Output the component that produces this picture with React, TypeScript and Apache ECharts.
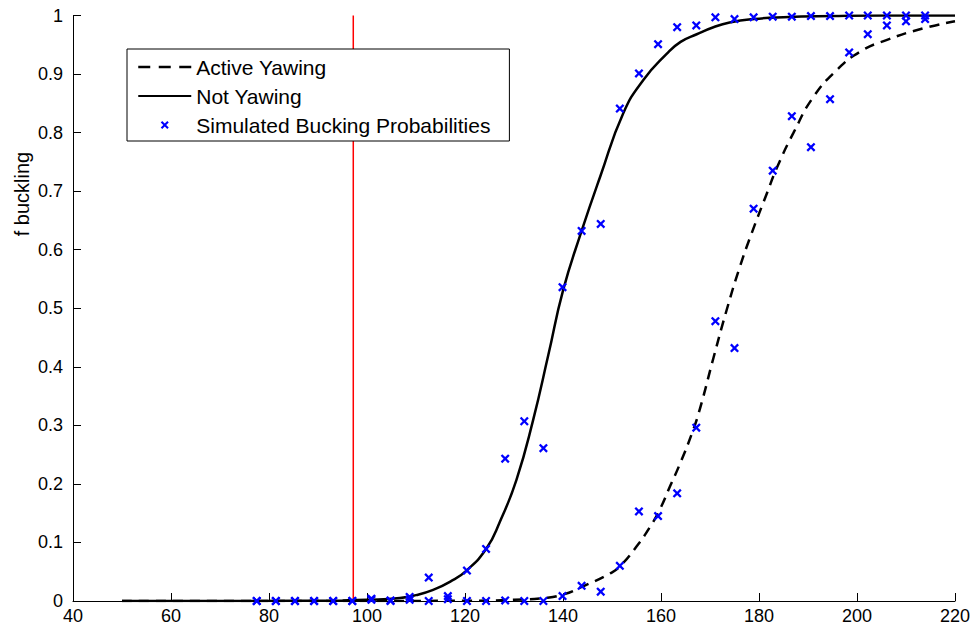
import React, { useEffect, useRef } from "react";
import * as echarts from "echarts";

// Fitted curves (x, f buckling)
const notYawingCurveX = [50, 70, 85, 95, 100, 106.7, 110, 113.5, 117, 120.3, 124.4, 127.1, 130.5, 133.9, 137, 140, 143.8, 147.6, 152.3, 156.4, 161.2, 164, 167.3, 170.7, 174, 179, 185, 195, 205, 220];
const notYawingCurveY = [0, 0, 0.0003, 0.001, 0.002, 0.005, 0.01, 0.019, 0.033, 0.052, 0.09, 0.135, 0.207, 0.309, 0.42, 0.53, 0.632, 0.725, 0.833, 0.89, 0.935, 0.955, 0.968, 0.98, 0.988, 0.994, 0.997, 0.999, 1, 1];

const activeYawingCurveX = [50, 100, 120, 130, 136, 140, 144.1, 149.6, 151.6, 155, 157.8, 159.8, 161.8, 163.9, 166.3, 168, 170.7, 173.4, 176.1, 178.5, 181.6, 183.6, 187, 191.1, 195.9, 200.6, 206, 213.5, 220];
const activeYawingCurveY = [0, 0, 0.0005, 0.002, 0.005, 0.011, 0.025, 0.047, 0.059, 0.093, 0.127, 0.157, 0.195, 0.235, 0.286, 0.33, 0.415, 0.497, 0.571, 0.628, 0.696, 0.739, 0.799, 0.861, 0.907, 0.938, 0.958, 0.978, 0.99];

// Simulated points
const simX = [77.5, 81.4, 85.3, 89.2, 93.1, 97.0, 100.9, 104.8, 108.7, 112.6, 116.5, 120.4, 124.3, 128.2, 132.1, 136.0, 139.9, 143.8, 147.7, 151.6, 155.5, 159.4, 163.3, 167.2, 171.1, 175.0, 178.9, 182.8, 186.7, 190.6, 194.5, 198.4, 202.2, 206.1, 210.0, 213.9];
const simNotYawing = [0, 0, 0, 0, 0, 0, 0.004, 0.001, 0.007, 0.04, 0.0085, 0.052, 0.089, 0.243, 0.307, 0.261, 0.536, 0.632, 0.644, 0.841, 0.901, 0.951, 0.98, 0.983, 0.997, 0.994, 0.997, 0.998, 0.998, 0.999, 0.999, 1, 1, 1, 1, 1];
const simActiveYawing = [0, 0, 0, 0, 0, 0, 0.002, 0, 0.002, 0, 0.003, 0, 0, 0.001, 0, 0, 0.0085, 0.026, 0.016, 0.06, 0.153, 0.145, 0.184, 0.296, 0.478, 0.432, 0.67, 0.735, 0.828, 0.775, 0.857, 0.937, 0.968, 0.983, 0.99, 0.994];

const thresholdX = 97.2;

const xTicks = { min: 40, max: 220, interval: 20 };
const yTicks = { min: 0, max: 1, interval: 0.1 };

const FONT = "'Liberation Sans', Arial, Helvetica, sans-serif";
const XMARK = "path://M0,1.8L1.8,0L5,3.2L8.2,0L10,1.8L6.8,5L10,8.2L8.2,10L5,6.8L1.8,10L0,8.2L3.2,5Z";

export default function App() {
  const ref = useRef<HTMLDivElement>(null);
  useEffect(() => {
    if (!ref.current) return;
    const chart = echarts.init(ref.current, undefined, { renderer: "svg" });
    const zip = (xs: number[], ys: number[]) => xs.map((x, i) => [x, ys[i]]);
    const simData = [...zip(simX, simNotYawing), ...zip(simX, simActiveYawing)];
    chart.setOption({
      animation: false,
      backgroundColor: "#ffffff",
      grid: { left: 73, right: 19, top: 15.5, bottom: 31, containLabel: false },
      xAxis: {
        type: "value",
        min: xTicks.min,
        max: xTicks.max,
        interval: xTicks.interval,
        axisLine: { show: true, lineStyle: { color: "#000", width: 1 } },
        axisTick: { show: true, inside: true, length: 8, lineStyle: { color: "#000" } },
        axisLabel: { color: "#000", fontSize: 18, fontFamily: FONT, margin: 6 },
        splitLine: { show: false },
      },
      yAxis: {
        type: "value",
        min: yTicks.min,
        max: yTicks.max,
        interval: yTicks.interval,
        axisLine: { show: true, lineStyle: { color: "#000", width: 1 } },
        axisTick: { show: true, inside: true, length: 8, lineStyle: { color: "#000" } },
        axisLabel: { color: "#000", fontSize: 18, fontFamily: FONT, margin: 10 },
        splitLine: { show: false },
      },
      legend: {
        orient: "vertical",
        left: 127,
        top: 49,
        padding: [7.5, 19, 5.5, 10],
        itemWidth: 53,
        itemHeight: 8,
        itemGap: 8,
        backgroundColor: "#fff",
        borderColor: "#000",
        borderWidth: 1,
        borderRadius: 0,
        textStyle: { color: "#000", fontSize: 21, fontFamily: FONT },
        data: [
          { name: "Active Yawing", itemStyle: { opacity: 0 }, lineStyle: { type: [12, 8.5], width: 2.5 } },
          { name: "Not Yawing", itemStyle: { opacity: 0 } },
          { name: "Simulated Bucking Probabilities", icon: XMARK, itemStyle: { color: "#0000ff", opacity: 1 } },
        ],
      },
      graphic: [
        {
          type: "text",
          x: 22,
          y: 194,
          rotation: Math.PI / 2,
          style: {
            text: "f buckling",
            font: `20px ${FONT}`,
            fill: "#000",
            textAlign: "center",
            textVerticalAlign: "middle",
          },
        },
      ],
      series: [
        {
          name: "threshold",
          type: "line",
          data: [[thresholdX, yTicks.min], [thresholdX, yTicks.max]],
          symbol: "none",
          lineStyle: { color: "#ff0000", width: 1.5 },
          itemStyle: { color: "#ff0000" },
          z: 1,
          silent: true,
        },
        {
          name: "Active Yawing",
          type: "line",
          data: zip(activeYawingCurveX, activeYawingCurveY),
          symbol: "none",
          smooth: 0.5,
          lineStyle: { color: "#000", width: 2.5, type: [10, 7] },
          itemStyle: { color: "#000" },
          z: 2,
        },
        {
          name: "Not Yawing",
          type: "line",
          data: zip(notYawingCurveX, notYawingCurveY),
          symbol: "none",
          smooth: 0.5,
          lineStyle: { color: "#000", width: 2.5 },
          itemStyle: { color: "#000" },
          z: 2,
        },
        {
          name: "Simulated Bucking Probabilities",
          type: "scatter",
          data: simData,
          symbol: XMARK,
          symbolSize: 9,
          itemStyle: { color: "#0000ff", opacity: 1 },
          z: 3,
        },
      ],
    });
    return () => chart.dispose();
  }, []);
  return (
    <div
      ref={ref}
      style={{ position: "fixed", left: 0, top: 0, width: 974, height: 632, background: "#fff" }}
    />
  );
}
